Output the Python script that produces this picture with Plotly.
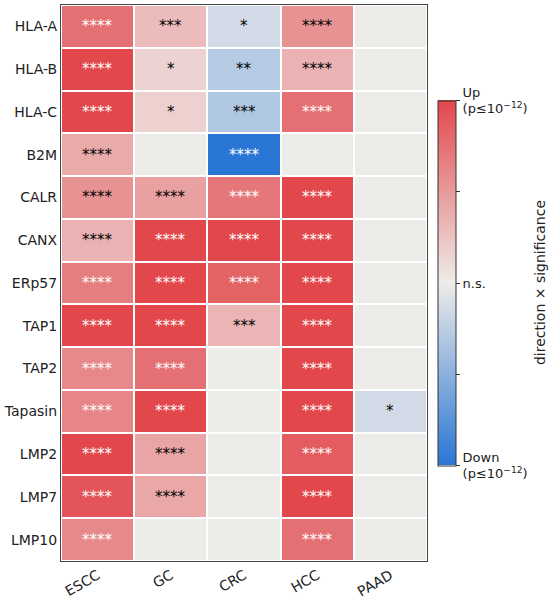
import plotly.graph_objects as go

genes = ["HLA-A", "HLA-B", "HLA-C", "B2M", "CALR", "CANX", "ERp57",
         "TAP1", "TAP2", "Tapasin", "LMP2", "LMP7", "LMP10"]
cancers = ["ESCC", "GC", "CRC", "HCC", "PAAD"]

# signed -log10(p), capped at 12 (positive = up, negative = down)
values = [
    [9.0, 3.5, -1.8, 6.5, 0],
    [12, 1.8, -3.5, 4.2, 0],
    [12, 2.0, -3.8, 9.0, 0],
    [4.8, 0, -12, 0, 0],
    [6.5, 5.5, 8.5, 12, 0],
    [4.2, 12, 12, 12, 0],
    [8.0, 12, 10.0, 12, 0],
    [12, 12, 4.0, 12, 0],
    [7.2, 9.0, 0, 12, 0],
    [7.4, 12, 0, 12, -1.8],
    [12, 5.2, 0, 10.5, 0],
    [11.0, 5.0, 0, 12, 0],
    [7.2, 0, 0, 9.0, 0],
]

stars = [
    ["****", "***", "*", "****", ""],
    ["****", "*", "**", "****", ""],
    ["****", "*", "***", "****", ""],
    ["****", "", "****", "", ""],
    ["****", "****", "****", "****", ""],
    ["****", "****", "****", "****", ""],
    ["****", "****", "****", "****", ""],
    ["****", "****", "***", "****", ""],
    ["****", "****", "", "****", ""],
    ["****", "****", "", "****", "*"],
    ["****", "****", "", "****", ""],
    ["****", "****", "", "****", ""],
    ["****", "", "", "****", ""],
]

cbar_ticks = [-12, -6, 0, 6, 12]
cbar_labels = ["Down<br>(p≤10<sup>−12</sup>)", " ", "n.s.", " ", "Up<br>(p≤10<sup>−12</sup>)"]
cbar_title = "direction × significance"

FONT = "DejaVu Sans"

fig = go.Figure()
fig.add_trace(go.Heatmap(
    z=values, x=cancers, y=genes,
    zmin=-12, zmax=12,
    colorscale=[[0, "#2a76d4"], [0.5, "#eeece9"], [1, "#e2474b"]],
    xgap=2, ygap=2,
    hoverinfo="skip",
    colorbar=dict(
        x=1.03, xanchor="left", y=0.5, yanchor="middle",
        len=0.657, lenmode="fraction", thickness=18, thicknessmode="pixels",
        xpad=0, ypad=0,
        outlinewidth=1, outlinecolor="#333333",
        tickmode="array", tickvals=cbar_ticks, ticktext=cbar_labels,
        ticks="outside", ticklen=4, tickcolor="#333333",
        tickfont=dict(family=FONT, size=13, color="#222222"),
    ),
))

annotations = []
for i, g in enumerate(genes):
    for j, c in enumerate(cancers):
        s = stars[i][j]
        if not s:
            continue
        col = "white" if abs(values[i][j]) >= 7 else "black"
        annotations.append(dict(x=c, y=g, text=s, showarrow=False,
                                font=dict(family=FONT, size=15, color=col),
                                xref="x", yref="y"))

annotations.append(dict(x=1.309, y=0.5, xref="paper", yref="paper",
                        text=cbar_title, textangle=-90, showarrow=False,
                        xanchor="center", yanchor="middle",
                        font=dict(family=FONT, size=14, color="#222222")))

fig.update_layout(
    width=550, height=603,
    margin=dict(l=61, r=123, t=4, b=40),
    paper_bgcolor="white", plot_bgcolor="white",
    annotations=annotations,
    font=dict(family=FONT, color="#222222"),
)
fig.update_xaxes(showgrid=False, zeroline=False, showline=True, mirror=True,
                 linecolor="#444444", linewidth=1.2, tickangle=-30,
                 ticks="", tickfont=dict(family=FONT, size=14, color="#222222"))
fig.update_yaxes(showgrid=False, zeroline=False, showline=True, mirror=True,
                 linecolor="#444444", linewidth=1.2, autorange="reversed",
                 ticks="", ticklen=0,
                 tickfont=dict(family=FONT, size=14, color="#222222"))

fig.write_html("out.html", config={"displayModeBar": False},
               post_script="document.body.style.margin='0';document.body.style.overflow='hidden';")
